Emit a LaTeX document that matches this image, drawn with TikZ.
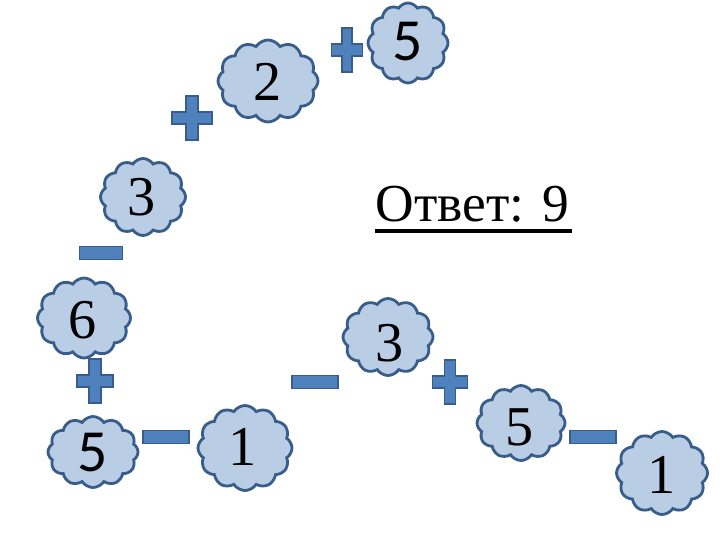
\documentclass[tikz,border=0pt]{standalone}
\usepackage{fontspec}
\setmainfont{Liberation Serif}
\newfontfamily\calfont{Carlito}
\usetikzlibrary{shapes.symbols}
\definecolor{cloudfill}{HTML}{B9CDE5}
\definecolor{cloudline}{HTML}{385D8A}
\definecolor{signfill}{HTML}{4F81BD}
\tikzset{
	cloudbox/.style={cloud, cloud puffs=12, cloud puff arc=115, draw=cloudline, fill=cloudfill, line width=0.8pt, inner sep=0pt},
	digit/.style={font=\fontsize{16}{19}\selectfont, inner sep=0pt},
	signline/.style={fill=signfill, draw=cloudline, line width=0.5pt},
	plussign/.pic={\filldraw[signline] (-0.06,-0.22) -- (0.06,-0.22) -- (0.06,-0.06) -- (0.19,-0.06) -- (0.19,0.06) -- (0.06,0.06) -- (0.06,0.22) -- (-0.06,0.22) -- (-0.06,0.06) -- (-0.19,0.06) -- (-0.19,-0.06) -- (-0.06,-0.06) -- cycle;},
	minussign/.pic={\filldraw[signline] (-0.23,-0.065) rectangle (0.23,0.065);}
}
\begin{document}
\begin{tikzpicture}
			\useasboundingbox (0,0) rectangle (7.2,5.4);
			\node[cloudbox, minimum width=0.80cm, minimum height=0.80cm] (c1) at (4.08,4.97) {};
			\node[cloudbox, minimum width=1.00cm, minimum height=0.82cm] (c2) at (2.68,4.59) {};
			\node[cloudbox, minimum width=0.85cm, minimum height=0.77cm] (c3) at (1.43,3.43) {};
			\node[cloudbox, minimum width=0.93cm, minimum height=0.80cm] (c4) at (0.84,2.22) {};
			\node[cloudbox, minimum width=0.90cm, minimum height=0.71cm] (c5) at (0.93,0.88) {};
			\node[cloudbox, minimum width=0.94cm, minimum height=0.85cm] (c6) at (2.45,0.92) {};
			\node[cloudbox, minimum width=0.90cm, minimum height=0.77cm] (c7) at (3.88,2.03) {};
			\node[cloudbox, minimum width=0.88cm, minimum height=0.75cm] (c8) at (5.21,1.17) {};
			\node[cloudbox, minimum width=0.91cm, minimum height=0.83cm] (c9) at (6.62,0.67) {};
			\node[digit, font=\calfont\fontsize{17}{20}\selectfont] (n1) at (4.08,4.98) {5};
			\node[digit] (n2) at (2.68,4.58) {2};
			\node[digit] (n3) at (1.42,3.43) {3};
			\node[digit] (n4) at (0.83,2.20) {6};
			\node[digit, font=\calfont\fontsize{17}{20}\selectfont] (n5) at (0.93,0.87) {5};
			\node[digit] (n6) at (2.43,0.93) {1};
			\node[digit] (n7) at (3.90,1.97) {3};
			\node[digit] (n8) at (5.20,1.13) {5};
			\node[digit] (n9) at (6.62,0.65) {1};
			\pic[xscale=0.82] at (3.47,4.90) {plussign};
			\pic[xscale=1.05] at (1.92,4.22) {plussign};
			\pic[xscale=0.93] at (1.01,2.87) {minussign};
			\pic[xscale=0.95] at (0.95,1.59) {plussign};
			\pic at (1.66,1.03) {minussign};
			\pic at (3.15,1.58) {minussign};
			\pic[xscale=0.92] at (4.50,1.58) {plussign};
			\pic at (5.93,1.03) {minussign};
			\node[font=\fontsize{15.2}{18}\selectfont, anchor=base west, inner sep=0pt] (answer) at (3.75,3.18) {Ответ: 9};
			\draw[line width=1.1pt] ([yshift=-0.09cm]answer.base west) -- ([xshift=0.02cm,yshift=-0.09cm]answer.base east);
		\end{tikzpicture}
\end{document}
